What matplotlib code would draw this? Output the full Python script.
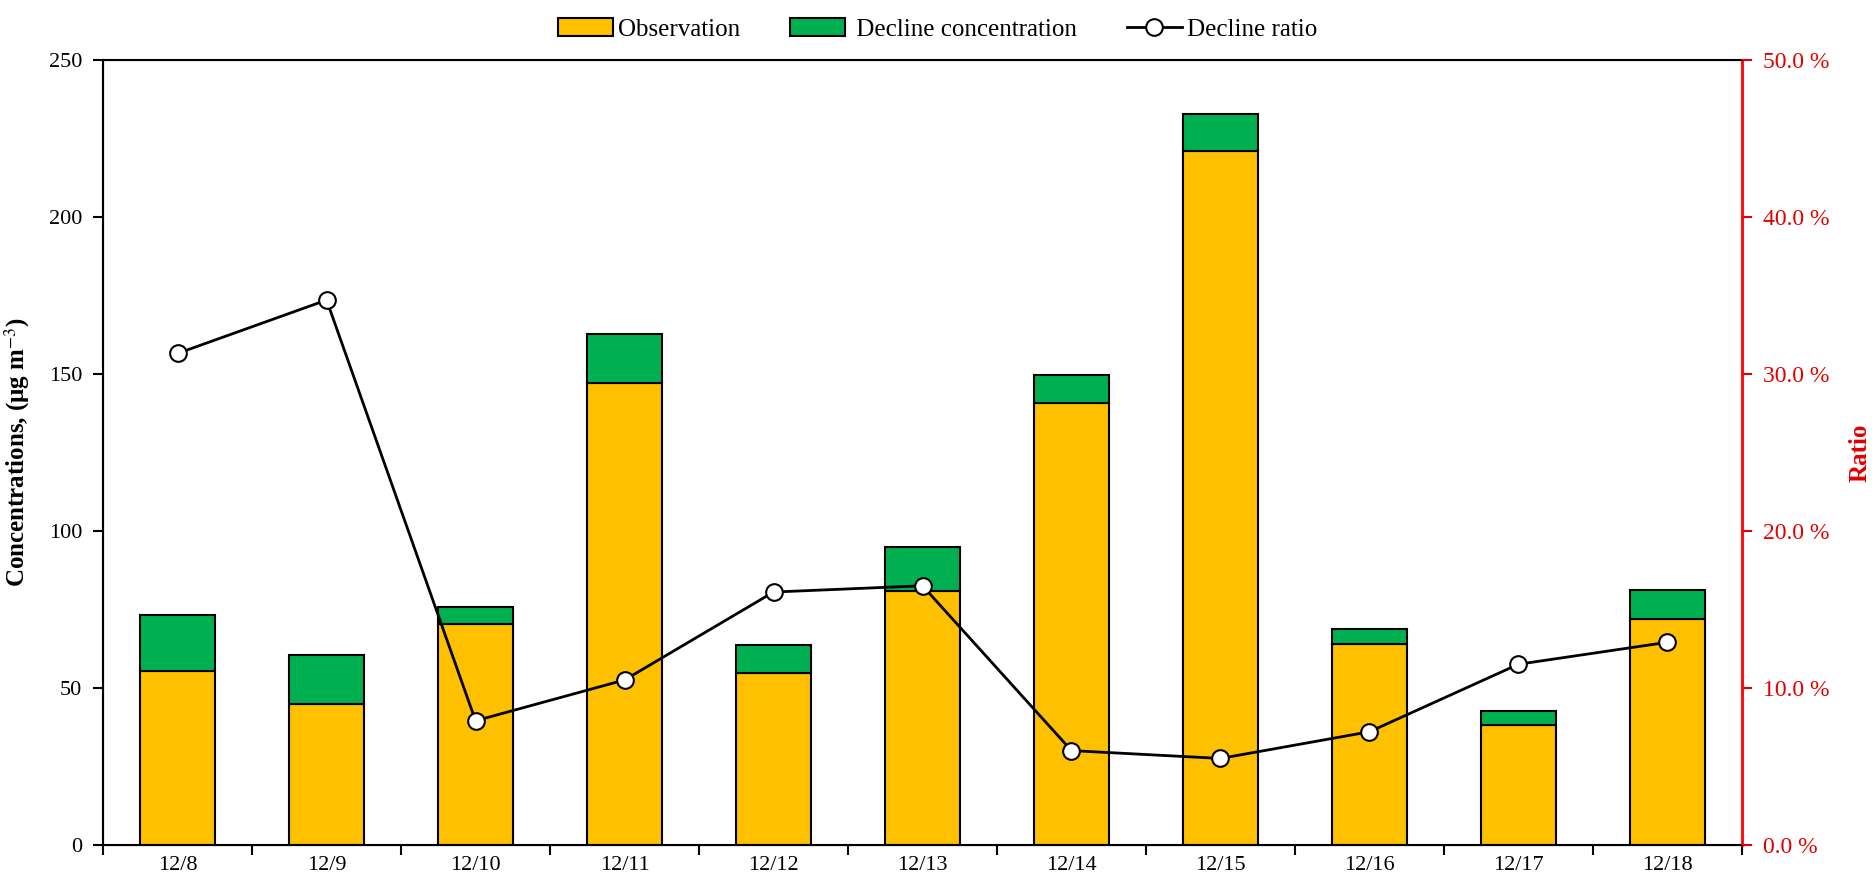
import matplotlib.pyplot as plt
import numpy as np
from matplotlib.ticker import FuncFormatter

dates = ['12/8', '12/9', '12/10', '12/11', '12/12', '12/13', '12/14', '12/15', '12/16', '12/17', '12/18']
observation = [55.3, 45.0, 70.2, 147.0, 54.6, 80.9, 140.8, 221.0, 64.1, 38.2, 71.8]
total = [73.3, 60.3, 75.6, 162.6, 63.7, 94.7, 149.6, 232.8, 68.7, 42.7, 81.3]
ratio = [31.3, 34.7, 7.9, 10.5, 16.1, 16.5, 6.0, 5.5, 7.2, 11.5, 12.9]

decline = [t - o for t, o in zip(total, observation)]

plt.rcParams['font.family'] = ['Liberation Serif', 'DejaVu Serif']
plt.rcParams['mathtext.fontset'] = 'stix'

fig, ax = plt.subplots(figsize=(18.75, 8.8), dpi=100)
fig.subplots_adjust(left=0.055, right=0.929, top=0.932, bottom=0.04)

x = np.arange(len(dates))
ax.bar(x, observation, width=0.5, color='#FFC000', edgecolor='black', linewidth=1.5, label='Observation')
ax.bar(x, decline, width=0.5, bottom=observation, color='#00B050', edgecolor='black', linewidth=1.5,
       label=' Decline concentration')

ax.set_xlim(-0.5, len(dates) - 0.5)
ax.set_ylim(0, 250)
ax.set_yticks([0, 50, 100, 150, 200, 250])
ax.set_xticks(np.arange(-0.5, len(dates), 1.0))
ax.set_xticklabels([])
ax.set_xticks(x, minor=True)
ax.set_xticklabels(dates, minor=True)
ax.tick_params(axis='x', which='minor', length=0, pad=8, labelsize=16)
ax.tick_params(axis='x', which='major', direction='out', length=7, width=1.5)
ax.tick_params(axis='y', direction='out', length=7, width=1.5, labelsize=16, pad=8)
for s in ['left', 'bottom', 'top']:
    ax.spines[s].set_linewidth(1.5)
ax.set_ylabel('Concentrations, (μg m$^{-3}$)', fontsize=18, fontweight='bold', labelpad=12)

ax2 = ax.twinx()
ax2.plot(x, ratio, color='black', linewidth=2, marker='o', markersize=12,
         markerfacecolor='white', markeredgecolor='black', markeredgewidth=1.5, label='Decline ratio')
ax2.set_ylim(0, 50)
ax2.set_yticks([0, 10, 20, 30, 40, 50])
ax2.yaxis.set_major_formatter(FuncFormatter(lambda v, p: f'{v:.1f} %'))
ax2.tick_params(axis='y', colors='#E00000', direction='out', length=7, width=1.5, labelsize=17, pad=8)
ax2.spines['right'].set_color('red')
ax2.spines['right'].set_linewidth(2)
ax2.set_ylabel('Ratio', fontsize=18, fontweight='bold', color='#E00000', labelpad=14)

h1, l1 = ax.get_legend_handles_labels()
h2, l2 = ax2.get_legend_handles_labels()
fig.legend(h1 + h2, l1 + l2, loc='upper center', bbox_to_anchor=(0.5, 1.005), ncol=3, frameon=False,
           fontsize=18, handlelength=2.2, handletextpad=0.2, columnspacing=2.0)

fig.savefig('out.png', dpi=100)
